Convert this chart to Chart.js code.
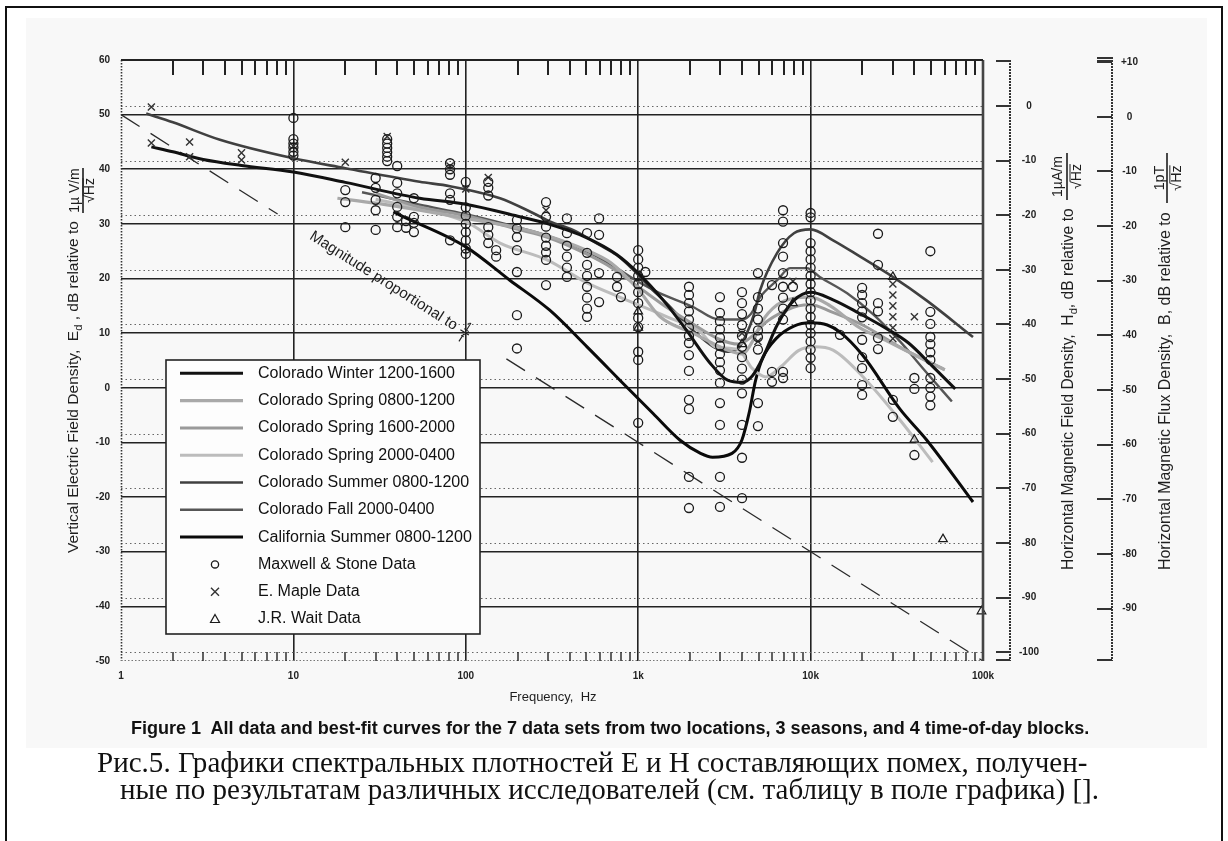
<!DOCTYPE html>
<html><head><meta charset="utf-8">
<script src="https://cdn.jsdelivr.net/npm/chart.js@4/dist/chart.umd.min.js"></script>
<style>
html,body{margin:0;padding:0;background:#fff;width:1228px;height:841px;overflow:hidden;}
#frame{position:absolute;left:5px;top:6px;width:1214px;height:850px;border:2px solid #111;border-bottom:none;}
#fig{position:absolute;left:26px;top:18px;width:1181px;height:730px;background:#f8f8f8;}
#c{position:absolute;left:0;top:0;}
.cap{position:absolute;white-space:nowrap;color:#111;line-height:1;}
#cap1{font-family:"Liberation Sans",Arial,sans-serif;font-weight:bold;font-size:13.5px;}
#ru1,#ru2{font-family:"Liberation Serif","Times New Roman",serif;font-size:23px;}
</style></head>
<body>
<div id="frame"></div>
<div id="fig"></div>
<canvas id="c" width="1228" height="841"></canvas>
<div class="cap" id="cap1">Figure 1&nbsp; All data and best-fit curves for the 7 data sets from two locations, 3 seasons, and 4 time-of-day blocks.</div>
<div class="cap" id="ru1">Рис.5. Графики спектральных плотностей Е и Н составляющих помех, получен-</div>
<div class="cap" id="ru2">ные по результатам различных исследователей (см. таблицу в поле графика) [].</div>
<script>
// ---------------- DATA ----------------
const xTickValues = [1, 10, 100, 1000, 10000, 100000];
const xTickLabels = ['1', '10', '100', '1k', '10k', '100k'];
const minorMultipliers = [2, 3, 4, 5, 6, 7, 8, 9];
const edTickValues = [60, 50, 40, 30, 20, 10, 0, -10, -20, -30, -40, -50];
const hdTickValues = [0, -10, -20, -30, -40, -50, -60, -70, -80, -90, -100];
const bTickValues = [10, 0, -10, -20, -30, -40, -50, -60, -70, -80, -90];

// best-fit curves: [frequency Hz, Ed dB]
const coloradoWinter = [[1.5,44.1],[2,43.2],[3,41.8],[5,40.7],[10,39.5],[20,37.6],[54,34.7],[100,33.6],[200,31.4],[300,30],[500,27.5],[750,24.4],[1000,21],[1400,16],[1900,10.6],[2600,4.6],[3300,1.4],[4000,1],[4600,2.2],[5300,5.6],[6400,11.5],[8000,16],[10000,17.5],[13500,16.1],[19000,13.7],[27000,11],[37000,8.2],[50000,4.2],[69000,-0.2]];
const coloradoSpring0800 = [[18,34.7],[30,33.8],[54,32.5],[100,31],[200,29.3],[300,27.8],[500,25.2],[700,22.8],[1000,18],[1340,13],[2080,10],[3300,6.9],[4000,6.2],[4700,9],[5200,12],[6400,15.2],[8000,16.4],[10000,16.6],[13000,15],[19000,11.1],[28000,8.5],[39000,6.2],[60000,3.3]];
const coloradoSpring1600 = [[30,35.6],[54,33.1],[100,31.5],[200,29],[300,27.5],[500,24.5],[700,22],[1000,18.5],[1500,14.5],[2000,12],[3000,8.8],[3800,8],[4600,9.5],[5500,12],[7000,14],[8500,15],[10000,15.2],[13000,14],[20000,11.5],[35000,7],[60000,3.3]];
const coloradoSpring2000 = [[30,34.5],[41.5,33.6],[100,30.4],[158,26.5],[296,23.4],[505,19.2],[780,16.6],[1470,13],[2300,10.2],[2800,7.5],[3800,7],[4600,3.5],[5500,2],[6800,4],[8500,6.8],[10500,7.5],[13500,6.9],[21000,1.4],[33000,-5.9],[51000,-13.6]];
const coloradoSummer = [[1.4,50.2],[2,48.6],[3.75,45.4],[10,42],[20,40.2],[54,37.7],[81,36.9],[158,34.7],[245,32],[309,30.4],[418,28.9],[600,26.1],[750,24.3],[935,21.6],[1160,18.5],[1460,15.5],[1980,11.1],[2300,9.3],[2800,7.3],[3300,6.6],[3800,7.2],[4200,9.5],[4700,13.5],[5100,17.9],[6400,24.7],[8000,28.3],[10000,29],[13500,27],[19400,24],[30000,20.3],[47000,16],[87500,9.3]];
const coloradoFall = [[25,35.8],[54,33.5],[100,31.8],[200,29.4],[300,27.8],[500,25],[700,22.5],[1000,19.4],[1340,17.3],[2080,14.8],[2700,12.8],[3000,12.5],[4000,12.5],[4500,13.5],[5100,16.6],[6400,19.7],[7600,21.9],[9500,21.9],[11300,20.3],[16300,17.3],[23000,13.5],[33000,8.5],[45000,3.5],[66000,-2.5]];
const californiaSummer = [[38,32.2],[41.5,31.6],[100,25.8],[180,19.7],[307,14.2],[505,7.5],[860,0.1],[1220,-4.7],[1750,-9.6],[2300,-12],[2700,-12.7],[3500,-12],[4000,-9.5],[4400,-4.6],[4800,1.4],[5300,5.6],[6300,9],[8000,11.3],[10000,11.9],[12500,11.5],[14800,10.2],[20000,6],[33000,-3.9],[47000,-9.5],[87500,-20.9]];
const oneOverF = [[1,50],[8.1,31.8],[40,null],[172,5.3],[100000,-50]];

// measured data points
const maxwellStone = [
[10,49.4],[10,45.5],[10,44.7],[10,44],[10,43.2],[10,42.5],
[20,36.2],[20,34],[20,29.4],
[30,38.4],[30,36.6],[30,34.4],[30,32.5],[30,28.9],
[35,45.5],[35,44.7],[35,43.9],[35,43.1],[35,42.3],[35,41.5],
[40,40.6],[40,37.5],[40,35.6],[40,33.1],[40,31.3],[40,29.4],
[45,30.5],[45,29.3],
[50,34.7],[50,31.3],[50,30.2],[50,28.5],
[81,41.1],[81,40],[81,39],[81,35.6],[81,34.4],[81,27],
[100,37.7],[100,33],[100,31.5],[100,30],[100,28.5],[100,27],[100,25.5],[100,24.5],
[135,37.7],[135,36.6],[135,35.2],[135,29.4],[135,28],[135,26.5],
[150,25.2],[150,24],
[198,30.7],[198,29.2],[198,27.6],[198,25.2],[198,21.2],[198,13.3],[198,7.2],
[292,34],[292,31.3],[292,29.5],[292,27.5],[292,26],[292,24.8],[292,23.4],[292,18.8],
[386,31],[386,28.3],[386,26],[386,24],[386,22],[386,20.3],
[505,28.3],[505,24.7],[505,22.5],[505,20.5],[505,18.5],[505,16.5],[505,14.5],[505,13],
[593,31],[593,28],[593,21],[593,15.7],
[754,20.3],[754,18.5],[794,16.6],
[1000,25.2],[1000,23.5],[1000,22],[1000,20.5],[1000,19],[1000,17.5],[1000,15.5],[1000,12.8],[1000,11.1],[1000,6.6],[1000,5.1],[1000,-6.4],
[1100,21.2],
[1970,18.5],[1970,17],[1970,15.5],[1970,14],[1970,12.5],[1970,11],[1970,9.5],[1970,8.2],[1970,6],[1970,3.1],[1970,-2.2],[1970,-3.9],[1970,-16.3],[1970,-22],
[2980,16.6],[2980,13.7],[2980,12.2],[2980,10.7],[2980,9.2],[2980,7.7],[2980,6.2],[2980,4.7],[2980,3.2],[2980,0.9],[2980,-2.8],[2980,-6.8],[2980,-16.3],[2980,-21.8],
[4000,17.5],[4000,15.5],[4000,13.5],[4000,11.5],[4000,9.5],[4000,7.5],[4000,5.6],[4000,3.5],[4000,1.5],[4000,-1],[4000,-6.8],[4000,-12.8],[4000,-20.2],
[4950,21],[4950,16.6],[4950,14.5],[4950,12.5],[4950,10.5],[4950,9.3],[4950,7],[4950,-2.8],[4950,-7],
[5970,18.8],[5970,2.9],[5970,1.1],
[6920,32.5],[6920,30.4],[6920,26.5],[6920,24],[6920,21],[6920,18.5],[6920,16.5],[6920,14.5],[6920,12.5],[6920,2.9],[6920,1.8],
[7900,18.5],
[10000,32],[10000,31.2],[10000,26.5],[10000,25],[10000,23.5],[10000,22],[10000,20.5],[10000,19],[10000,17.5],[10000,16],[10000,14.5],[10000,13],[10000,11.5],[10000,10],[10000,8.5],[10000,7],[10000,5.5],[10000,3.6],
[14800,9.7],
[19900,18.3],[19900,17],[19900,15.5],[19900,14],[19900,12.9],[19900,8.8],[19900,5.6],[19900,3.6],[19900,0.5],[19900,-1.3],
[24600,28.2],[24600,22.5],[24600,15.5],[24600,14],[24600,9.1],[24600,7.1],
[30000,-2.2],[30000,-5.3],
[40000,1.8],[40000,-0.2],[40000,-12.3],
[49500,25],[49500,13.9],[49500,11.7],[49500,9.3],[49500,8],[49500,6.5],[49500,5.1],[49500,1.8],[49500,0],[49500,-1.6],[49500,-3.2]
];
const eMaple = [[1.5,51.4],[1.5,44.8],[2.5,45],[2.5,42.3],[5,43],[5,41.7],[10,44.2],[20,41.3],[35,46],[81,40.6],[100,36.4],[135,38.5],[292,32.5],[4000,10],[4950,8.5],[7900,19.5],[30000,19],[30000,17],[30000,15],[30000,13],[30000,11],[30000,9],[40000,13]];
const jrWait = [[1000,14],[1000,11],[4000,8],[7900,15.5],[30000,20.3],[40000,-9.5],[58600,-27.7],[98000,-40.9]];

// ---------------- CHART ----------------
const FONT = '"Liberation Sans", Arial, sans-serif';
const toXY = arr => arr.map(([x, y]) => ({x, y}));

const curveDefs = [
  {label:'Colorado Winter 1200-1600', data:coloradoWinter, color:'#111111', width:3},
  {label:'Colorado Spring 0800-1200', data:coloradoSpring0800, color:'#a9a9a9', width:3.2},
  {label:'Colorado Spring 1600-2000', data:coloradoSpring1600, color:'#9a9a9a', width:3},
  {label:'Colorado Spring 2000-0400', data:coloradoSpring2000, color:'#bcbcbc', width:3},
  {label:'Colorado Summer 0800-1200', data:coloradoSummer, color:'#404040', width:2.6},
  {label:'Colorado Fall 2000-0400', data:coloradoFall, color:'#565656', width:2.4},
  {label:'California Summer 0800-1200', data:californiaSummer, color:'#0a0a0a', width:3}
];
const markerDefs = [
  {label:'Maxwell & Stone Data', data:maxwellStone, style:'circle', r:4.5, bw:1.3, color:'#1a1a1a'},
  {label:'E. Maple Data', data:eMaple, style:'crossRot', r:5, bw:1.4, color:'#333333'},
  {label:'J.R. Wait Data', data:jrWait, style:'triangle', r:5, bw:1.2, color:'#1a1a1a'}
];

const datasets = [];
markerDefs.forEach(m => datasets.push({
  type:'line', label:m.label, data:toXY(m.data), showLine:false,
  pointStyle:m.style, pointRadius:m.r, pointBorderWidth:m.bw,
  pointBorderColor:m.color, pointBackgroundColor:'rgba(0,0,0,0)', clip:false, yAxisID:'y'
}));
curveDefs.forEach(c => datasets.push({
  type:'line', label:c.label, data:toXY(c.data), borderColor:c.color, borderWidth:c.width,
  pointRadius:0, cubicInterpolationMode:'monotone', fill:false, yAxisID:'y'
}));
datasets.push({
  type:'line', label:'1/f', data:toXY(oneOverF), borderColor:'#2a2a2a', borderWidth:1.3,
  borderDash:[22,13], pointRadius:0, spanGaps:false, yAxisID:'y'
});

function L(ctx, x1, y1, x2, y2){ ctx.beginPath(); ctx.moveTo(x1,y1); ctx.lineTo(x2,y2); ctx.stroke(); }

function drawVTitle(ctx, o){
  ctx.save();
  ctx.translate(o.cx, o.y0); ctx.rotate(-Math.PI/2);
  ctx.fillStyle = '#1e1e1e'; ctx.textBaseline = 'middle'; ctx.textAlign = 'left';
  const meas = f => {
    ctx.font = f + 'px ' + FONT;
    let w = ctx.measureText(o.pre).width + ctx.measureText(o.post).width;
    ctx.font = (f*0.72) + 'px ' + FONT;
    w += o.sub ? ctx.measureText(o.sub).width : 0;
    return w;
  };
  const fs = 14 * (o.y0 - o.y1) / meas(14);
  let x = 0;
  ctx.font = fs + 'px ' + FONT; ctx.fillText(o.pre, x, 0); x += ctx.measureText(o.pre).width;
  if (o.sub){ ctx.font = (fs*0.72) + 'px ' + FONT; ctx.fillText(o.sub, x, fs*0.32); x += ctx.measureText(o.sub).width; }
  ctx.font = fs + 'px ' + FONT; ctx.fillText(o.post, x, 0);
  const fx0 = o.y0 - o.fracBottom, fx1 = o.y0 - o.fracTop, fc = (fx0 + fx1) / 2;
  ctx.textAlign = 'center';
  ctx.font = (fs*0.9) + 'px ' + FONT;
  ctx.fillText(o.num, fc, o.numDx);
  ctx.fillRect(fx0, o.barDx - 0.8, fx1 - fx0, 1.6);
  const wAll = ctx.measureText('√Hz').width, wR = ctx.measureText('√').width;
  ctx.fillText('√Hz', fc, o.denDx);
  ctx.fillRect(fc - wAll/2 + wR - 0.5, o.denDx - fs*0.48, wAll - wR + 0.5, 1);
  ctx.restore();
}

const deco = {
  id:'deco',
  beforeDatasetsDraw(chart){
    const {ctx, chartArea:a, scales} = chart;
    ctx.save();
    ctx.strokeStyle = '#666'; ctx.lineWidth = 1; ctx.setLineDash([1.5, 3]);
    hdTickValues.forEach(v => { const py = Math.round(scales.yH.getPixelForValue(v)) + 0.5; L(ctx, a.left, py, a.right, py); });
    ctx.restore();
  },
  afterDatasetsDraw(chart){
    const {ctx, chartArea:a, scales} = chart;
    const xs = scales.x, ys = scales.y, yH = scales.yH, yB = scales.yB;
    ctx.save();
    // plot borders
    ctx.strokeStyle = '#333'; ctx.lineWidth = 1.6; ctx.setLineDash([1.5, 1.5]);
    L(ctx, a.left + 0.5, a.top, a.left + 0.5, a.bottom);
    ctx.strokeStyle = '#777'; ctx.lineWidth = 1; ctx.setLineDash([1.5, 2]);
    L(ctx, a.left, a.bottom - 0.5, a.right, a.bottom - 0.5);
    ctx.setLineDash([]);
    ctx.strokeStyle = '#444'; ctx.lineWidth = 2.6; L(ctx, a.right, a.top, a.right, a.bottom);
    ctx.strokeStyle = '#222'; ctx.lineWidth = 2; L(ctx, a.left, a.top, a.right, a.top);
    // minor x ticks
    ctx.strokeStyle = '#222';
    xTickValues.slice(0, -1).forEach(d => minorMultipliers.forEach(m => {
      const px = Math.round(xs.getPixelForValue(d*m));
      ctx.lineWidth = 2; L(ctx, px, a.top, px, a.top + 15);
      ctx.lineWidth = 1.4; L(ctx, px, a.bottom, px, a.bottom - 9);
    }));
    // Hd axis
    const hx = 1010;
    ctx.strokeStyle = '#333'; ctx.lineWidth = 2; ctx.setLineDash([2, 1]);
    L(ctx, hx, a.top, hx, a.bottom); ctx.setLineDash([]);
    ctx.lineWidth = 2;
    L(ctx, hx - 14, a.top + 1, hx, a.top + 1);
    L(ctx, hx - 14, a.bottom - 1, hx, a.bottom - 1);
    hdTickValues.forEach(v => { const py = Math.round(yH.getPixelForValue(v)); L(ctx, hx - 14, py, hx, py); });
    // B axis
    const bx = 1112;
    ctx.setLineDash([2, 1]); L(ctx, bx, a.top - 3, bx, a.bottom); ctx.setLineDash([]);
    L(ctx, bx - 15, a.top - 2, bx, a.top - 2);
    L(ctx, bx - 15, a.top + 1, bx, a.top + 1);
    L(ctx, bx - 15, a.bottom - 1, bx, a.bottom - 1);
    bTickValues.forEach(v => { const py = Math.round(yB.getPixelForValue(v)); L(ctx, bx - 15, py, bx, py); });

    // axis titles
    drawVTitle(ctx, {cx:74, y0:553, y1:221, pre:'Vertical Electric Field Density,  E', sub:'d', post:' , dB relative to',
      fracBottom:213, fracTop:168, num:'1µ V/m', numDx:1, barDx:9, denDx:16});
    drawVTitle(ctx, {cx:1069, y0:570, y1:208, pre:'Horizontal Magnetic Field Density,  H', sub:'d', post:', dB relative to',
      fracBottom:200, fracTop:153, num:'1µA/m', numDx:-11, barDx:-2, denDx:8});
    drawVTitle(ctx, {cx:1166, y0:570, y1:212, pre:'Horizontal Magnetic Flux Density,  B, dB relative to', sub:'', post:'',
      fracBottom:203, fracTop:153, num:'1pT', numDx:-6, barDx:1, denDx:11});
    ctx.fillStyle = '#1e1e1e'; ctx.font = '13px ' + FONT; ctx.textAlign = 'center'; ctx.textBaseline = 'middle';
    ctx.fillText('Frequency,  Hz', 553, 697);

    // "Magnitude proportional to 1/f"
    const p0 = {x:xs.getPixelForValue(oneOverF[0][0]), y:ys.getPixelForValue(oneOverF[0][1])};
    const p1 = {x:xs.getPixelForValue(oneOverF[oneOverF.length-1][0]), y:ys.getPixelForValue(oneOverF[oneOverF.length-1][1])};
    const ang = Math.atan2(p1.y - p0.y, p1.x - p0.x);
    const sx = 311, sy = p0.y + (sx - p0.x) * Math.tan(ang);
    ctx.save(); ctx.translate(sx, sy); ctx.rotate(ang);
    ctx.textAlign = 'left'; ctx.textBaseline = 'middle';
    const txt = 'Magnitude proportional to';
    ctx.font = '14px ' + FONT;
    const tfs = 14 * 172 / ctx.measureText(txt).width;
    ctx.font = tfs + 'px ' + FONT;
    ctx.fillText(txt, 0, 0);
    const tl = ctx.measureText(txt).width;
    ctx.font = (tfs*0.85) + 'px ' + FONT; ctx.textAlign = 'center';
    ctx.fillText('1', tl + 10, -6);
    ctx.fillRect(tl + 5, -0.6, 10, 1.2);
    ctx.fillText('f', tl + 10, 7);
    ctx.restore();

    // legend
    const lx0 = 166, ly0 = 360, lx1 = 480, ly1 = 634, row0 = 373.3, dy = 27.3;
    ctx.fillStyle = '#fdfdfd'; ctx.fillRect(lx0, ly0, lx1 - lx0, ly1 - ly0);
    ctx.strokeStyle = '#222'; ctx.lineWidth = 1.6; ctx.strokeRect(lx0, ly0, lx1 - lx0, ly1 - ly0);
    ctx.font = '14px ' + FONT;
    const lfs = 14 * 214 / ctx.measureText('California Summer 0800-1200').width;
    ctx.font = lfs + 'px ' + FONT; ctx.textAlign = 'left'; ctx.textBaseline = 'middle';
    curveDefs.forEach((c, i) => {
      const yy = row0 + i*dy;
      ctx.strokeStyle = c.color; ctx.lineWidth = c.width; L(ctx, 180, yy, 243, yy);
      ctx.fillStyle = '#111'; ctx.fillText(c.label, 258, yy);
    });
    markerDefs.forEach((m, j) => {
      const yy = row0 + (curveDefs.length + j)*dy, mx = 215;
      ctx.strokeStyle = m.color; ctx.lineWidth = m.bw;
      ctx.beginPath();
      if (m.style === 'circle') { ctx.arc(mx, yy, 3.6, 0, Math.PI*2); }
      else if (m.style === 'crossRot') { ctx.moveTo(mx-4, yy-4); ctx.lineTo(mx+4, yy+4); ctx.moveTo(mx+4, yy-4); ctx.lineTo(mx-4, yy+4); }
      else { ctx.moveTo(mx, yy-4.5); ctx.lineTo(mx+4.5, yy+3.5); ctx.lineTo(mx-4.5, yy+3.5); ctx.closePath(); }
      ctx.stroke();
      ctx.fillStyle = '#111'; ctx.fillText(m.label, 258, yy);
    });
    ctx.restore();
  }
};

const tickFont = {family:'"Liberation Sans", Arial, sans-serif', size:10, weight:'bold'};
new Chart(document.getElementById('c'), {
  type:'line',
  data:{datasets},
  options:{
    responsive:false, maintainAspectRatio:false, animation:false, devicePixelRatio:1,
    layout:{padding:{top:60, bottom:150, left:0, right:0}},
    plugins:{legend:{display:false}, tooltip:{enabled:false}},
    scales:{
      x:{type:'logarithmic', position:'bottom', min:1, max:100000,
        afterBuildTicks:s => { s.ticks = xTickValues.map(v => ({value:v})); },
        afterFit:s => { s.height = 30; },
        ticks:{autoSkip:false, maxRotation:0, padding:9, font:tickFont, color:'#222', callback:(v, i) => xTickLabels[i]},
        grid:{color:c => (c.tick && c.tick.value === 1) ? 'rgba(0,0,0,0)' : '#222', lineWidth:1.6, drawTicks:false},
        border:{display:false}},
      y:{type:'linear', position:'left', min:-50, max:60,
        afterBuildTicks:s => { s.ticks = edTickValues.map(v => ({value:v})); },
        afterFit:s => { s.width = 121; },
        ticks:{padding:11, font:tickFont, color:'#222', callback:v => String(v)},
        grid:{color:c => (c.tick && c.tick.value === -50) ? 'rgba(0,0,0,0)' : '#222', lineWidth:1.6, drawTicks:false},
        border:{display:false}},
      yH:{type:'linear', position:'right', min:-101.6, max:8.4,
        afterBuildTicks:s => { s.ticks = hdTickValues.map(v => ({value:v})); },
        afterFit:s => { s.width = 110; },
        ticks:{padding:36, crossAlign:'center', font:tickFont, color:'#222', callback:v => String(v)},
        grid:{display:false, drawTicks:false}, border:{display:false}},
      yB:{type:'linear', position:'right', min:-99.6, max:10.4,
        afterBuildTicks:s => { s.ticks = bTickValues.map(v => ({value:v})); },
        afterFit:s => { s.width = 135; },
        ticks:{padding:28, crossAlign:'center', font:tickFont, color:'#222', callback:v => v > 0 ? '+' + v : String(v)},
        grid:{display:false, drawTicks:false}, border:{display:false}}
    }
  },
  plugins:[deco]
});

// captions
function place(el, left, cy, targetW, fs){
  if (fs) el.style.fontSize = fs + 'px';
  else { const w = el.getBoundingClientRect().width; const f = parseFloat(getComputedStyle(el).fontSize); el.style.fontSize = (f*targetW/w) + 'px'; }
  el.style.left = left + 'px';
  el.style.top = (cy - el.getBoundingClientRect().height/2) + 'px';
  return parseFloat(el.style.fontSize);
}
place(document.getElementById('cap1'), 131, 728, 959);
const rfs = place(document.getElementById('ru1'), 97, 763, 991);
place(document.getElementById('ru2'), 120, 790, 0, rfs);
</script>
</body></html>
